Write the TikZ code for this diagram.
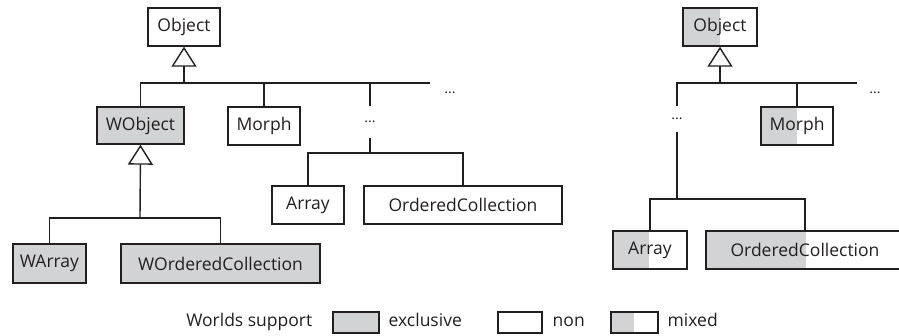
\documentclass[tikz,border=0pt]{standalone}
\usepackage{fontspec}
\setmainfont{Open Sans}
\usetikzlibrary{arrows.meta}
\definecolor{wgray}{RGB}{209,211,212}
\definecolor{ink}{RGB}{35,31,32}
\begin{document}
\begin{tikzpicture}[x=1pt,y=-1pt,
  line width=1.4pt, draw=ink,
  every node/.style={font=\fontsize{17.5}{19}\selectfont, text=ink, inner sep=0pt},
  cls/.style={draw=ink, minimum width=#1, minimum height=38pt},
  excl/.style={fill=wgray},
  mixed/.style={path picture={\fill[wgray] (path picture bounding box.south west) rectangle ([xshift=#1]path picture bounding box.north west);}},
  isa/.style={-{Triangle[open,length=20pt,width=25pt]}},
  link/.style={draw=ink},
  more/.style={minimum height=#1},
  dots/.style={font=\fontsize{14}{15}\selectfont}
]
\useasboundingbox (0,0) rectangle (899,336);

% ---------- class tree with wrapper classes ----------
\node[cls=72pt] (objL) at (184,27) {Object};
\node[cls=87pt, excl, minimum height=37pt] (wobj) at (140.5,125.5) {WObject};
\node[cls=72pt] (morphL) at (264,126) {Morph};
\node[dots, more=30pt] (dotsL2) at (370,122) {...};
\node[dots] (dotsL1) at (450,93) {...};
\node[cls=72pt] (arrL) at (308,205) {Array};
\node[cls=198pt] (ocollL) at (463,205) {OrderedCollection};
\node[cls=73pt, excl, minimum height=39pt] (warray) at (49.5,263.5) {WArray};
\node[cls=199pt, excl, minimum height=39pt] (wocoll) at (220.5,263.5) {WOrderedCollection};

\coordinate (busL) at (184,83);
\coordinate (busLend) at (430,83);
\coordinate (subL) at (370,153);
\coordinate (busW) at (140,218);

\draw[isa] (busL) -- (objL.south);
\draw[link] (wobj.north) -- (wobj.north |- busL) -- (busLend);
\draw[link] (morphL.north) -- (morphL.north |- busL);
\draw[link] (dotsL2.north) -- (dotsL2.north |- busL);
\draw[link] (dotsL2.south) -- (subL);
\draw[link] (arrL.north) -- (arrL.north |- subL) -- (ocollL.north |- subL) -- (ocollL.north);
\draw[isa] (busW) -- (wobj.south);
\draw[link] (warray.north) -- (warray.north |- busW) -- (wocoll.north |- busW) -- (wocoll.north);

% ---------- class tree with mixed support ----------
\node[cls=74pt, mixed=37pt] (objR) at (720,27) {Object};
\node[cls=72pt, mixed=36pt] (morphR) at (797,126) {Morph};
\node[dots, more=24pt] (dotsR2) at (677,119) {...};
\node[dots] (dotsR1) at (875,93) {...};
\node[cls=74pt, mixed=36pt] (arrR) at (650,250) {Array};
\node[cls=198pt, mixed=100pt] (ocollR) at (805,250) {OrderedCollection};

\coordinate (busR) at (720,83);
\coordinate (busRend) at (857,83);
\coordinate (subR) at (677,199);

\draw[isa] (busR) -- (objR.south);
\draw[link] (dotsR2.north) -- (dotsR2.north |- busR) -- (busRend);
\draw[link] (morphR.north) -- (morphR.north |- busR);
\draw[link] (dotsR2.south) -- (subR);
\draw[link] (arrR.north) -- (arrR.north |- subR) -- (ocollR.north |- subR) -- (ocollR.north);

% ---------- legend ----------
\node[anchor=mid east] (legtitle) at (313,324) {Worlds support};
\node[draw=ink, excl, minimum width=46pt, minimum height=21pt] (legEx) at (356,322.5) {};
\node[anchor=mid west] (legExT) at (388,324) {exclusive};
\node[draw=ink, minimum width=44pt, minimum height=21pt] (legNon) at (520,322.5) {};
\node[anchor=mid west] (legNonT) at (552,324) {non};
\node[draw=ink, mixed=23pt, minimum width=47pt, minimum height=21pt] (legMix) at (634.5,322.5) {};
\node[anchor=mid west] (legMixT) at (667,324) {mixed};
\end{tikzpicture}
\end{document}
